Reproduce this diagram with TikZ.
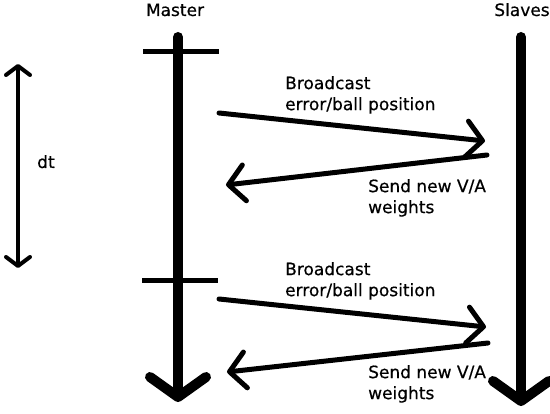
\documentclass[tikz,border=0pt]{standalone}
\usepackage{fontspec}
\setmainfont{DejaVu Sans}[FakeBold=0.5]
\usetikzlibrary{arrows.meta}
\begin{document}
\begin{tikzpicture}[x=1pt,y=-1pt,
  lbl/.style={font=\fontsize{17}{21}\selectfont, inner sep=0pt, align=left},
  msg/.style={line width=5pt, line cap=round, -{Straight Barb[length=16pt, width=36pt, line cap=round, line join=round]}},
  life/.style={line width=10pt, line cap=round, -{Straight Barb[length=20pt, width=56pt, line cap=round, line join=round]}},
  tick/.style={line width=5pt},
  dtarrow/.style={line width=4pt, {Straight Barb[length=9pt, width=24pt, line cap=round, line join=round]}-{Straight Barb[length=9pt, width=24pt, line cap=round, line join=round]}}
]
\useasboundingbox (0,0) rectangle (550,414);
% headers
\node[lbl, anchor=base] (master) at (175,16) {Master};
\node[lbl, anchor=base] (slaves) at (522,16) {Slaves};
% lifelines
\coordinate (m0) at (178,37);
\coordinate (m1) at (178,402);
\coordinate (s0) at (521,37);
\coordinate (s1) at (521,406);
\draw[life] (m0) -- (m1);
\draw[life] (s0) -- (s1);
% ticks
\coordinate (t1a) at (143,52); \coordinate (t1b) at (219,52);
\coordinate (t2a) at (142,281); \coordinate (t2b) at (218,281);
\draw[tick] (t1a) -- (t1b);
\draw[tick] (t2a) -- (t2b);
% dt
\coordinate (d0) at (18,64);
\coordinate (d1) at (18,268);
\draw[dtarrow] (d0) -- (d1);
\node[lbl, anchor=base west] (dt) at (37,168) {dt};
% first round
\coordinate (a1s) at (219,113); \coordinate (a1e) at (485,141);
\coordinate (b1s) at (487,155); \coordinate (b1e) at (226,185);
\draw[msg] (a1s) -- (a1e);
\draw[msg] (b1s) -- (b1e);
\node[lbl, anchor=north west] (bc1) at (285,76) {Broadcast\\error/ball position};
\node[lbl, anchor=north west] (sn1) at (368,179) {Send new V/A\\weights};
% second round
\coordinate (a2s) at (219,299); \coordinate (a2e) at (486,327);
\coordinate (b2s) at (488,343); \coordinate (b2e) at (227,372);
\draw[msg] (a2s) -- (a2e);
\draw[msg] (b2s) -- (b2e);
\node[lbl, anchor=north west] (bc2) at (285,262) {Broadcast\\error/ball position};
\node[lbl, anchor=north west] (sn2) at (368,365) {Send new V/A\\weights};
\end{tikzpicture}
\end{document}
